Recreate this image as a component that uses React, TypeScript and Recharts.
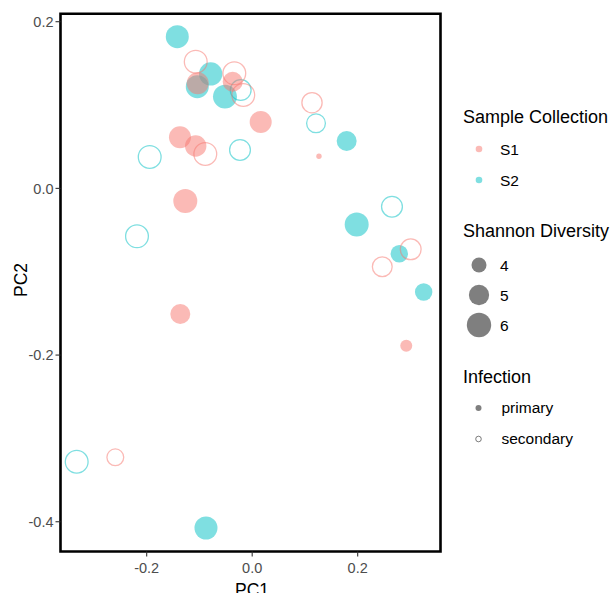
import React from 'react';
import { ScatterChart, Scatter, XAxis, YAxis, ZAxis, ReferenceArea } from 'recharts';

// PCA coordinates and Shannon diversity
const s1Primary = [
  { pc1: -0.1033, pc2: 0.1261, shannon: 5.4 },
  { pc1: -0.037, pc2: 0.128, shannon: 4.94 },
  { pc1: 0.0161, pc2: 0.0797, shannon: 5.4 },
  { pc1: 0.1266, pc2: 0.0385, shannon: 2.94 },
  { pc1: 0.2921, pc2: -0.1888, shannon: 3.56 },
  { pc1: -0.1369, pc2: 0.0613, shannon: 5.4 },
  { pc1: -0.1071, pc2: 0.0509, shannon: 5.26 },
  { pc1: -0.1268, pc2: -0.0151, shannon: 5.89 },
  { pc1: -0.1363, pc2: -0.1507, shannon: 4.94 },
];
const s1Secondary = [
  { pc1: -0.107, pc2: 0.152, shannon: 5.89 },
  { pc1: -0.0339, pc2: 0.1381, shannon: 5.89 },
  { pc1: -0.0169, pc2: 0.1121, shannon: 5.89 },
  { pc1: 0.1134, pc2: 0.1028, shannon: 5.26 },
  { pc1: 0.3005, pc2: -0.0731, shannon: 5.4 },
  { pc1: 0.2466, pc2: -0.094, shannon: 5.16 },
  { pc1: -0.0889, pc2: 0.0413, shannon: 5.89 },
  { pc1: -0.2595, pc2: -0.3227, shannon: 4.53 },
];
const s2Primary = [
  { pc1: -0.142, pc2: 0.182, shannon: 5.64 },
  { pc1: -0.0787, pc2: 0.1373, shannon: 5.72 },
  { pc1: -0.1041, pc2: 0.122, shannon: 5.64 },
  { pc1: -0.0516, pc2: 0.1101, shannon: 5.89 },
  { pc1: 0.1791, pc2: 0.0569, shannon: 4.94 },
  { pc1: 0.1981, pc2: -0.0433, shannon: 5.89 },
  { pc1: 0.2789, pc2: -0.0784, shannon: 4.42 },
  { pc1: 0.3251, pc2: -0.1243, shannon: 4.42 },
  { pc1: -0.0876, pc2: -0.4075, shannon: 5.64 },
];
const s2Secondary = [
  { pc1: -0.0218, pc2: 0.118, shannon: 5.4 },
  { pc1: 0.121, pc2: 0.0781, shannon: 4.94 },
  { pc1: 0.265, pc2: -0.022, shannon: 5.4 },
  { pc1: -0.1943, pc2: 0.0377, shannon: 5.89 },
  { pc1: -0.0231, pc2: 0.0461, shannon: 5.4 },
  { pc1: -0.2184, pc2: -0.0575, shannon: 5.89 },
  { pc1: -0.3327, pc2: -0.328, shannon: 5.89 },
];

const xTicks = [-0.2, 0.0, 0.2];
const yTicks = [-0.4, -0.2, 0.0, 0.2];
const xDomain = [-0.3634, 0.357];
const yDomain = [-0.4357, 0.2096];
const sizeBreaks = [4, 5, 6];
const collections = ['S1', 'S2'];
const infections = ['primary', 'secondary'];

const PINK = '#F8766D';
const TEAL = '#00BFC4';
const FONT = '"Liberation Sans", Arial, sans-serif';

const radiusFor = (v: number) => Math.sqrt(Math.max(46.3 * v - 128.9, 0));

const makeShape = (color: string, open: boolean) => (p: any) => {
  const r = p.size != null ? Math.sqrt(p.size / Math.PI) : p.width / 2;
  if (open) {
    return (
      <circle cx={p.cx} cy={p.cy} r={Math.max(r - 0.6, 0)} fill="none" stroke={color} strokeOpacity={0.5} strokeWidth={1.3} />
    );
  }
  return <circle cx={p.cx} cy={p.cy} r={r} fill={color} fillOpacity={0.5} stroke="none" />;
};

const tickStyle = { fill: '#4D4D4D', fontSize: 14.5, fontFamily: FONT };

export default function App() {
  return (
    <div style={{ position: 'absolute', left: 0, top: 0, width: 612, height: 593, background: '#fff', fontFamily: FONT }}>
      <ScatterChart width={612} height={593} margin={{ top: 13.7, right: 171.5, bottom: 11.5, left: 0 }}>
        <XAxis
          type="number"
          dataKey="pc1"
          domain={xDomain}
          ticks={xTicks}
          allowDataOverflow
          height={30}
          axisLine={false}
          tickSize={5}
          tickMargin={6}
          tickLine={{ stroke: '#333', strokeWidth: 1.1 }}
          tick={tickStyle}
          tickFormatter={(v: number) => v.toFixed(1)}
          label={{
            content: () => (
              <text x={252} y={596} textAnchor="middle" fontSize={17.5} fontFamily={FONT} fill="#000">PC1</text>
            ),
          }}
        />
        <YAxis
          type="number"
          dataKey="pc2"
          domain={yDomain}
          ticks={yTicks}
          allowDataOverflow
          width={60.5}
          axisLine={false}
          tickSize={5}
          tickMargin={2}
          tickLine={{ stroke: '#333', strokeWidth: 1.1 }}
          tick={tickStyle}
          tickFormatter={(v: number) => v.toFixed(1)}
          label={{
            content: () => (
              <text x={26.5} y={280} transform="rotate(-90 26.5 280)" textAnchor="middle" fontSize={17.5} fontFamily={FONT} fill="#000">PC2</text>
            ),
          }}
        />
        <ZAxis type="number" dataKey="shannon" domain={[2.9, 6.3]} range={[17, 512]} />
        <Scatter name="S2 primary" data={s2Primary} isAnimationActive={false} shape={makeShape(TEAL, false)} />
        <Scatter name="S2 secondary" data={s2Secondary} isAnimationActive={false} shape={makeShape(TEAL, true)} />
        <Scatter name="S1 primary" data={s1Primary} isAnimationActive={false} shape={makeShape(PINK, false)} />
        <Scatter name="S1 secondary" data={s1Secondary} isAnimationActive={false} shape={makeShape(PINK, true)} />
        <ReferenceArea
          x1={xDomain[0]}
          x2={xDomain[1]}
          y1={yDomain[0]}
          y2={yDomain[1]}
          fill="none"
          fillOpacity={0}
          stroke="#000"
          strokeWidth={2.6}
          ifOverflow="visible"
        />
      </ScatterChart>
      <svg width={612} height={593} style={{ position: 'absolute', left: 0, top: 0, pointerEvents: 'none' }}>
        <g fontFamily={FONT} fill="#000">
          <text x={463} y={123} fontSize={18}>Sample Collection</text>
          {collections.map((c, i) => (
            <g key={c}>
              <circle cx={479} cy={149 + i * 31} r={3.3} fill={i === 0 ? PINK : TEAL} fillOpacity={0.5} />
              <text x={500} y={154.5 + i * 31} fontSize={15.5}>{c}</text>
            </g>
          ))}
          <text x={463} y={237} fontSize={18}>Shannon Diversity</text>
          {sizeBreaks.map((b, i) => (
            <g key={b}>
              <circle cx={479} cy={265 + i * 30} r={radiusFor(b)} fill="#000" fillOpacity={0.5} />
              <text x={500} y={270.5 + i * 30} fontSize={15.5}>{b}</text>
            </g>
          ))}
          <text x={463} y={383} fontSize={18}>Infection</text>
          {infections.map((f, i) => (
            <g key={f}>
              {i === 0 ? (
                <circle cx={478.5} cy={408 + i * 31} r={3} fill="#000" fillOpacity={0.5} />
              ) : (
                <circle cx={478.5} cy={408 + i * 31} r={2.8} fill="none" stroke="#000" strokeOpacity={0.5} strokeWidth={1} />
              )}
              <text x={501.5} y={413 + i * 31} fontSize={15.5}>{f}</text>
            </g>
          ))}
        </g>
      </svg>
    </div>
  );
}
